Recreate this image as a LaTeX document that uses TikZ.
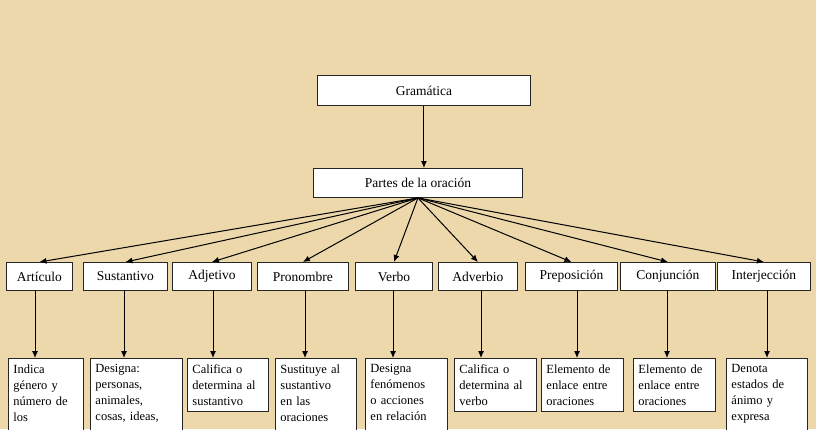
\documentclass[tikz,border=0pt]{standalone}
\usepackage{fontspec}
\setmainfont{Liberation Serif}
\usetikzlibrary{arrows.meta}
\begin{document}
\begin{tikzpicture}[x=1pt,y=-1pt,
  bx/.style={draw=black!85,line width=0.9pt,fill=white,inner sep=0pt,anchor=north west},
  desc/.style={bx,align=left,font=\fontsize{12.5}{16}\selectfont,inner xsep=5pt,inner ysep=6pt},
  arr/.style={-{Latex[length=7pt,width=6pt]},line width=1pt}]
\useasboundingbox (0,0) rectangle (816,429);
\clip (0,0) rectangle (816,429);
\fill[color={rgb,255:red,236;green,216;blue,170}] (0,0) rectangle (816,429);
\begin{scope}[font=\fontsize{13.5}{15}\selectfont]
\node[bx,minimum width=213,minimum height=30] (g) at (317,75) {Gramática};
\node[bx,minimum width=209,minimum height=29] (p) at (313,168) {Partes de la oración};
\foreach \n/\a/\b/\t in {a/6/72/Artículo,s/83/167/Sustantivo,j/172/251/Adjetivo,pr/257/348/Pronombre,v/355/432/Verbo,ad/438/517/Adverbio,pp/525/617/Preposición,c/620/715/Conjunción,i/717/810/Interjección}
  \node[bx,minimum width=\b-\a,minimum height=28] (\n) at (\a,262) {\t};
\end{scope}
\node[desc,text width=65] (da) at (8,358) {Indica\\género y\\número de\\los\\\strut\\\strut};
\node[desc,text width=82] (ds) at (90,358) {Designa:\\personas,\\animales,\\cosas, ideas,\\\strut\\\strut};
\node[desc,text width=71] (dj) at (187,358) {Califica o\\determina al\\sustantivo};
\node[desc,text width=71] (dpr) at (275,358) {Sustituye al\\sustantivo\\en las\\oraciones\\\strut\\\strut};
\node[desc,text width=72] (dv) at (365,358) {Designa\\fenómenos\\o acciones\\en relación\\\strut\\\strut};
\node[desc,text width=72] (dad) at (454,358) {Califica o\\determina al\\verbo};
\node[desc,text width=72] (dpp) at (541,358) {Elemento de\\enlace entre\\oraciones};
\node[desc,text width=72] (dc) at (633,358) {Elemento de\\enlace entre\\oraciones};
\node[desc,text width=71] (di) at (726,358) {Denota\\estados de\\ánimo y\\expresa\\\strut\\\strut};
\draw[arr] (g.south) -- (g.south |- p.north);
\foreach \n in {a,s,j,pr,v,ad,pp,c,i} \draw[arr] (p.south) -- (\n.north);
\foreach \n/\x in {a/35,s/124,j/213,pr/305,v/393,ad/481,pp/577,c/667,i/767} \draw[arr] (\x,290) -- (\x,358);
\end{tikzpicture}
\end{document}
